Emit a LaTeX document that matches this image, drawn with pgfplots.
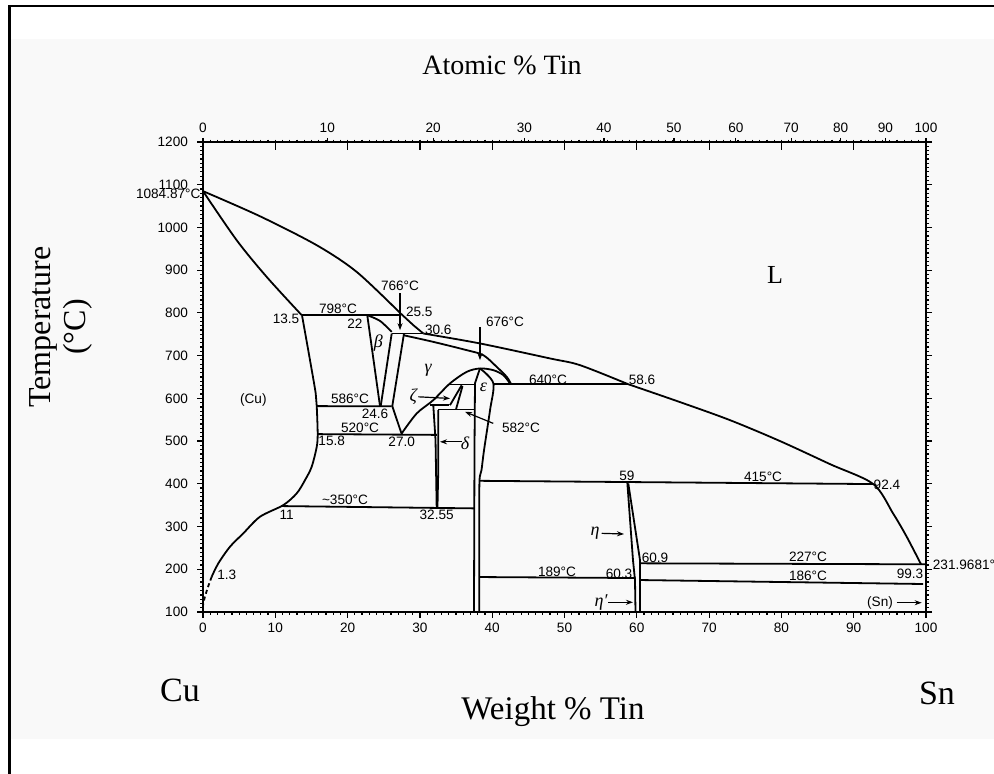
\documentclass[border=0pt]{standalone}
\usepackage{fontspec}
\setmainfont{Liberation Serif}
\newfontfamily\lab{Liberation Sans}
\usepackage{pgfplots}
\pgfplotsset{compat=1.18}
\usetikzlibrary{arrows.meta}
\definecolor{bgc}{RGB}{249,249,249}
\tikzset{lbl/.style={font=\lab\fontsize{6.8}{8}\selectfont, inner sep=0pt},
  gr/.style={font=\itshape\fontsize{9}{10}\selectfont, inner sep=0pt},
  arr/.style={-{Stealth[length=3.5pt,width=2.5pt]}, line width=0.6pt}}
\begin{document}
\begin{tikzpicture}[x=1pt,y=1pt]
\path[use as bounding box] (0,0) rectangle (497,387);
\fill[bgc] (5.5,17.5) rectangle (497,367.5);
\draw[line width=1.4pt] (4.75,0) -- (4.75,384) -- (497,384);
\begin{axis}[at={(101.5pt,81pt)}, anchor=south west, width=361.5pt, height=235pt, scale only axis,
  xmin=0, xmax=100, ymin=100, ymax=1200, clip=false,
  axis line style={line width=1pt},
  xtick={0,10,...,100}, minor xtick={0,1,...,100},
  ytick={100,200,...,1200}, minor ytick={100,110,...,1200},
  xtick pos=left, ytick pos=both, tick align=outside,
  major tick length=3pt, minor tick length=1.5pt,
  every tick/.style={line width=0.6pt, black},
  ticklabel style={font=\lab\fontsize{6.8}{8}\selectfont},
  xticklabel style={yshift=1pt},
  yticklabel style={xshift=-1pt},
  /pgf/number format/assume math mode=true,
  /pgf/number format/set thousands separator={},
  cycle list={{black,solid}},
  every axis plot/.append style={line width=0.9pt, no markers}]
% liquidus
\addplot[smooth] coordinates {(0,1085) (7.88,1026.2) (15.73,958.4) (21.26,895.9) (27.25,800)};
\addplot coordinates {(27.25,800) (29.09,771.3) (30.47,751.8)};
\addplot[smooth] coordinates {(30.47,751.8) (38.31,728.5) (48.0,693.4) (52.14,677.7) (58.78,633.3)};
\addplot[smooth] coordinates {(58.78,633.3) (65.98,591.2) (72.89,549) (79.81,500) (86.72,446.1) (92.71,399.4) (95.44,330.8) (97.33,276.1) (99.3,212)};
% alpha solidus
\addplot[smooth] coordinates {(0,1085) (4.66,970.1) (8.81,884.2) (13.65,794.7)};
% alpha solvus
\addplot[smooth] coordinates {(13.69,794.6) (14.80,689.4) (15.59,611.5) (15.73,581.8) (15.86,517.9) (15.73,486.6) (15.03,439.8) (14.11,408.7) (12.96,377.6) (11.11,350.2) (7.88,322.9) (5.57,284.0) (3.73,252.7) (2.12,213.9) (1.20,182.5)};
\addplot[dash pattern=on 2pt off 1.5pt, smooth] coordinates {(1.20,182.5) (0.55,151.4) (0.04,120.3) (0,100)};
% horizontals
\addplot coordinates {(13.69,795) (27.34,795)};
\addplot coordinates {(26.1,751.8) (30.47,751.8)};
\addplot coordinates {(15.73,581.8) (26.1,581.5)};
\addplot coordinates {(15.86,516.3) (32.34,514.5)};
\addplot coordinates {(10.89,347.9) (37.48,342.5)};
\addplot coordinates {(38.31,407) (92.71,399.4)};
\addplot coordinates {(40.15,633.3) (58.78,633.3)};
\addplot coordinates {(34.16,632.6) (37.62,632.6)};
\addplot coordinates {(60.44,213.9) (100,211.6)};
\addplot coordinates {(38.21,181.8) (59.82,179.5)};
\addplot coordinates {(60.44,174.8) (99.59,165.5)};
% beta
\addplot coordinates {(22.72,794.6) (24.48,581.8)};
\addplot coordinates {(26.1,751.8) (24.58,581.8)};
\addplot coordinates {(27.8,751.8) (26.18,581.8) (27.48,516.3)};
\addplot[smooth] coordinates {(22.72,794.6) (24.48,781.3) (26.1,755.6)};
% gamma upper
\addplot[smooth] coordinates {(27.7,747.9) (31.85,732.2) (36.47,712.8) (38.77,701.1) (40.62,673.7) (42.01,650.3) (42.56,634.9)};
% dome
\addplot[smooth] coordinates {(27.48,517.9) (29.56,564.7) (31.85,595.8) (34.16,634.9) (36.47,662.0) (38.31,670.0) (40.15,666.0) (41.54,654.3) (42.46,634.9)};
% epsilon
\addplot coordinates {(38.31,670) (37.62,635.6) (37.55,480) (37.48,100)};
\addplot[smooth] coordinates {(38.31,670) (40.15,635.6) (39.7,572.4) (38.87,478.9) (38.52,432.1) (38.24,406.4) (38.21,300) (38.21,100)};
% delta
\addplot coordinates {(31.85,584.1) (32.16,502.3) (32.32,345.6)};
\addplot coordinates {(32.54,572.4) (32.54,432.1) (32.43,345.6)};
% 582
\addplot coordinates {(31.4,584) (34.0,584)};
\addplot coordinates {(32.54,574) (37.62,574)};
% zeta
\addplot coordinates {(35.78,630.7) (34.16,584)};
\addplot coordinates {(35.89,628.6) (34.99,574)};
% eta
\addplot coordinates {(58.69,402.4) (59.47,221.6) (59.75,174.8) (59.82,100)};
\addplot coordinates {(58.82,401) (60.44,221.6) (60.44,100)};
% arrows
\addplot[arr] coordinates {(27.25,846) (27.25,759.6)};
\addplot[arr] coordinates {(38.31,767.3) (38.31,689.4)};
\addplot[arr] coordinates {(29.78,603.6) (34.16,599.8)};
\addplot[arr] coordinates {(35.78,498.3) (32.78,498.3)};
\addplot[arr] coordinates {(40.15,541.4) (36.24,568.5)};
\addplot[arr] coordinates {(55.15,284.1) (58.23,282.5)};
\addplot[arr] coordinates {(56.02,122.7) (59.47,122.7)};
\addplot[arr] coordinates {(95.95,121.7) (99.4,121.7)};
% labels
\node[lbl, anchor=east] at (axis cs:-0.3,1078) {1084.87°C};
\node[lbl, anchor=west] at (axis cs:100.9,210) {231.9681°};
\node[lbl] at (axis cs:18.67,810) {798°C};
\node[lbl] at (axis cs:27.25,862.5) {766°C};
\node[lbl] at (axis cs:11.48,786.9) {13.5};
\node[lbl] at (axis cs:21.02,775.2) {22};
\node[lbl] at (axis cs:29.92,802.4) {25.5};
\node[lbl] at (axis cs:32.54,761.2) {30.6};
\node[lbl] at (axis cs:41.77,778.3) {676°C};
\node[lbl] at (axis cs:47.72,644.3) {640°C};
\node[lbl] at (axis cs:60.72,644) {58.6};
\node[lbl] at (axis cs:6.96,596) {(Cu)};
\node[lbl] at (axis cs:20.33,598.2) {586°C};
\node[lbl] at (axis cs:23.79,564.7) {24.6};
\node[lbl] at (axis cs:21.72,531.9) {520°C};
\node[lbl] at (axis cs:17.8,500.6) {15.8};
\node[lbl] at (axis cs:27.48,498.3) {27.0};
\node[lbl] at (axis cs:43.98,530.3) {582°C};
\node[lbl] at (axis cs:19.64,361.9) {\textasciitilde350°C};
\node[lbl] at (axis cs:11.58,326.8) {11};
\node[lbl] at (axis cs:32.32,326.8) {32.55};
\node[lbl] at (axis cs:3.28,186.5) {1.3};
\node[lbl] at (axis cs:58.64,418) {59};
\node[lbl] at (axis cs:77.46,415.7) {415°C};
\node[lbl] at (axis cs:94.6,397) {92.4};
\node[lbl] at (axis cs:62.52,227) {60.9};
\node[lbl] at (axis cs:83.68,228) {227°C};
\node[lbl] at (axis cs:48.96,193.5) {189°C};
\node[lbl] at (axis cs:57.54,190.5) {60.3};
\node[lbl] at (axis cs:83.68,184.8) {186°C};
\node[lbl] at (axis cs:97.79,190.5) {99.3};
\node[lbl] at (axis cs:93.64,121.7) {(Sn)};
\node[gr] at (axis cs:24.25,729.9) {β};
\node[gr] at (axis cs:31.16,666) {γ};
\node[gr] at (axis cs:38.77,626.9) {ε};
\node[gr] at (axis cs:29.09,603.6) {ζ};
\node[gr] at (axis cs:36.24,495.3) {δ};
\node[gr] at (axis cs:54.22,284) {η};
\node[gr] at (axis cs:55.05,123) {η′};
\node[font=\fontsize{13}{14}\selectfont, inner sep=0pt] at (axis cs:79.11,888.2) {L};
\end{axis}
\begin{axis}[at={(101.5pt,81pt)}, anchor=south west, width=361.5pt, height=235pt, scale only axis,
  xmin=0, xmax=100, ymin=100, ymax=1200,
  axis x line*=top, axis y line=none,
  axis line style={line width=1pt},
  xtick={0,17.19,31.83,44.46,55.46,65.13,73.70,81.34,88.20,94.39,100},
  xticklabels={0,10,20,30,40,50,60,70,80,90,100},
  extra x ticks={10,20,30,40,50,60,70,80,90},
  extra x tick labels={},
  extra x tick style={tick align=inside, major tick length=4pt},
  minor xtick={0,1,...,100},
  tick align=outside, major tick length=2pt, minor tick length=1.2pt,
  every tick/.style={line width=0.6pt, black},
  ticklabel style={font=\lab\fontsize{6.8}{8}\selectfont},
  xticklabel style={yshift=-1pt},
  /pgf/number format/assume math mode=true]
\end{axis}
\node[font=\fontsize{14}{16}\selectfont] at (251,354.5) {Atomic \% Tin};
\node[font=\fontsize{16}{18}\selectfont, rotate=90] at (21.5,223.5) {Temperature};
\node[font=\fontsize{16}{18}\selectfont, rotate=90] at (39,223.5) {(°C)};
\node[font=\fontsize{17}{18}\selectfont] at (90,42) {Cu};
\node[font=\fontsize{16.5}{18}\selectfont] at (276.5,31) {Weight \% Tin};
\node[font=\fontsize{17}{18}\selectfont] at (468.5,40.5) {Sn};
\end{tikzpicture}
\end{document}
